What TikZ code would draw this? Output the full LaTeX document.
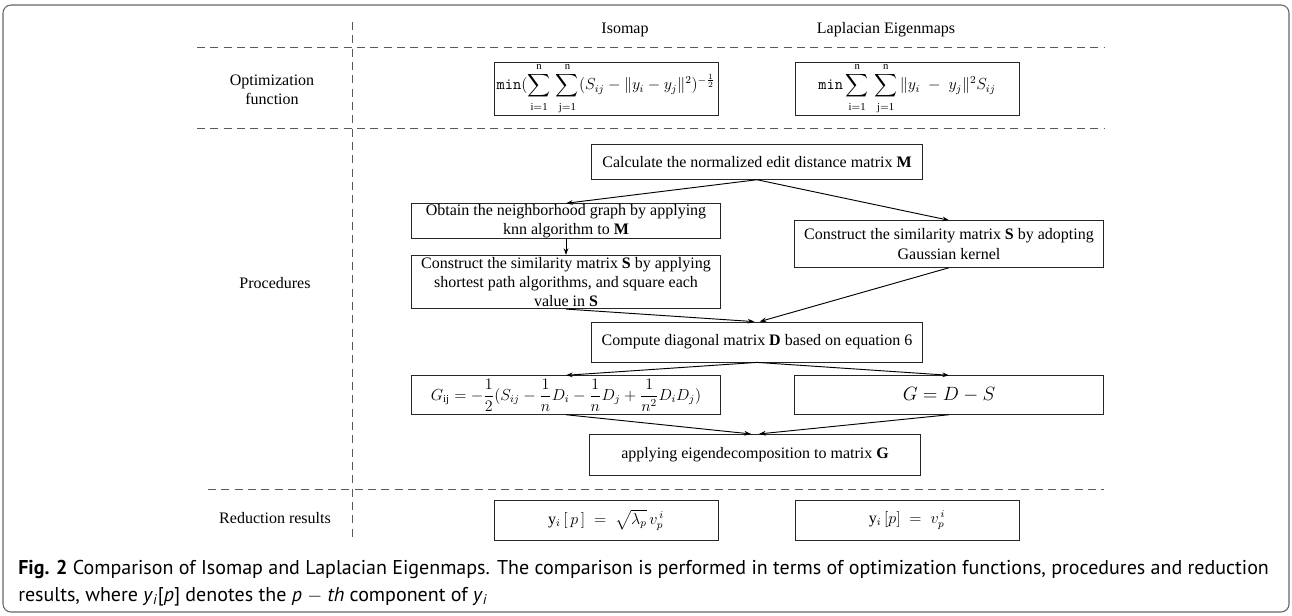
\documentclass[tikz,border=0pt]{standalone}
\usepackage{amsmath}
\usepackage{fontspec}
\setmainfont{Liberation Serif}
\newfontfamily\capfont{PT Sans}
\usetikzlibrary{arrows.meta}

\newcommand{\uplim}{\mathrm{n}}
\newcommand{\lowlim}[1]{\rule{0pt}{7pt}\mathrm{#1}}

\tikzset{
  box/.style={draw=black!85, line width=0.6pt, inner sep=0pt, align=center, font=\fontsize{12}{14.5}\selectfont},
  widebox/.style={box, minimum width=248pt},
  sidebox/.style={box, minimum width=232pt},
  formbox/.style={box, minimum width=168pt, minimum height=40pt},
  sep/.style={draw=black!65, line width=0.6pt, dash pattern=on 6pt off 4pt},
  flow/.style={-{Stealth[length=5pt,width=3.5pt]}, line width=0.7pt},
  lab/.style={font=\fontsize{12}{14.5}\selectfont, align=center}
}

\begin{document}
\begin{tikzpicture}[x=0.75pt,y=-0.75pt]
\useasboundingbox (0,0) rectangle (1292,615);
\draw[black!60, line width=0.8pt, rounded corners=6pt] (3,5) rectangle (1289,612);

\node[lab] (isotitle) at (625,30) {Isomap};
\node[lab] (laptitle) at (886,30) {Laplacian Eigenmaps};
\node[lab] (optlab) at (272,90) {Optimization\\function};
\node[lab] (proclab) at (275,283) {Procedures};
\node[lab] (redlab) at (275,518) {Reduction results};

\draw[sep] (352,22) -- (352,540);
\draw[sep] (197,47) -- (1104,47);
\draw[sep] (197,128) -- (1104,128);
\draw[sep] (208,489) -- (1104,489);

\node[formbox] (isoopt) at (606,89) {$\displaystyle \texttt{min}(\sum_{\lowlim{i=1}}^{\uplim}\,\sum_{\lowlim{j=1}}^{\uplim}(S_{ij}-\|y_i-y_j\|^2)^{-\frac{1}{2}}$};
\node[formbox] (lapopt) at (907,89) {$\displaystyle \texttt{min}\sum_{\lowlim{i=1}}^{\uplim}\,\sum_{\lowlim{j=1}}^{\uplim}\|y_i\;-\;y_j\|^2S_{ij}$};

\node[widebox, minimum height=26pt] (calc) at (757,162) {Calculate the normalized edit distance matrix \textbf{M}};
\node[sidebox, minimum height=26pt] (obtain) at (566,221) {Obtain the neighborhood graph by applying\\knn algorithm to \textbf{M}};
\node[sidebox, minimum height=35pt] (gauss) at (949,244) {Construct the similarity matrix \textbf{S} by adopting\\Gaussian kernel};
\node[sidebox, minimum height=40pt] (cons) at (566,282) {Construct the similarity matrix \textbf{S} by applying\\shortest path algorithms, and square each\\value in \textbf{S}};
\node[widebox, minimum height=30pt] (diag) at (757,342) {Compute diagonal matrix \textbf{D} based on equation 6};
\node[sidebox, minimum height=29pt] (gij) at (566,395) {$G_{\mathrm{ij}} = -\dfrac{1}{2}(S_{ij} - \dfrac{1}{n}D_i - \dfrac{1}{n}D_j + \dfrac{1}{n^2}D_iD_j)$};
\node[sidebox, minimum height=29pt, font=\Large] (gds) at (949,395) {$G = D - S$};
\node[widebox, minimum height=31pt] (eig) at (755,455) {applying eigendecomposition to matrix \textbf{G}};
\node[formbox, minimum height=30pt, font=\large] (isores) at (606,520) {$\mathrm{y}_i\,[\,p\,]\;=\;\sqrt{\lambda_p}\,v_p^{\,i}$};
\node[formbox, minimum height=30pt, font=\large] (lapres) at (907,520) {$\mathrm{y}_i\,[p]\;=\;v_p^{\,i}$};

\draw[flow] (calc.south) -- (obtain.north);
\draw[flow] (calc.south) -- (gauss.north);
\draw[flow] (obtain.south) -- (cons.north);
\draw[flow] (cons.south) -- ([xshift=-2pt]diag.north);
\draw[flow] (gauss.south) -- ([xshift=2pt]diag.north);
\draw[flow] (diag.south) -- (gij.north);
\draw[flow] (diag.south) -- (gds.north);
\draw[flow] (gij.south) -- ([xshift=-3pt]eig.north);
\draw[flow] (gds.south) -- ([xshift=3pt]eig.north);

\node[anchor=north west, align=left, inner sep=0pt, font=\capfont\fontsize{15}{20}\selectfont] (cap) at (18,560) {\textbf{Fig. 2} Comparison of Isomap and Laplacian Eigenmaps. The comparison is performed in terms of optimization functions, procedures and reduction\\results, where \textit{y}\textsubscript{\textit{i}}[\textit{p}] denotes the \textit{p} $-$ \textit{th} component of \textit{y}\textsubscript{\textit{i}}};
\end{tikzpicture}
\end{document}
